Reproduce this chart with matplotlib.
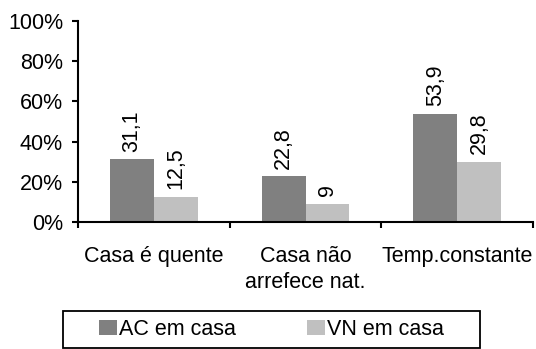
import numpy as np
import matplotlib.pyplot as plt
from matplotlib.patches import Rectangle
from matplotlib.ticker import FixedLocator, NullFormatter

plt.rcParams['font.family'] = ['Liberation Sans', 'DejaVu Sans']

# percentages per reason, by group
categories = ['Casa é quente', 'Casa não\narrefece nat.', 'Temp.constante']
ac_casa = [31.1, 22.8, 53.9]
vn_casa = [12.5, 9.0, 29.8]
series_names = ['AC em casa', 'VN em casa']

fs = 15.5
W, H = 536, 349
fig = plt.figure(figsize=(W/100, H/100), dpi=100)
ax = fig.add_axes([78/W, 1 - 222/H, 455/W, 201/H])

x = np.arange(len(categories))
w = 0.29
b1 = ax.bar(x - w/2, ac_casa, w, color='#808080', label=series_names[0])
b2 = ax.bar(x + w/2, vn_casa, w, color='#c0c0c0', label=series_names[1])

def fmt(v):
    s = ('%.1f' % v).replace('.', ',')
    return s[:-2] if s.endswith(',0') else s

for bars, vals in [(b1, ac_casa), (b2, vn_casa)]:
    for rect, v in zip(bars, vals):
        ax.annotate(fmt(v), (rect.get_x() + rect.get_width()/2, v),
                    xytext=(0, 5.5), textcoords='offset points',
                    rotation=90, ha='center', va='bottom', fontsize=fs)

ax.set_xlim(-0.5, 2.5)
ax.set_ylim(0, 100)
ax.set_yticks(np.arange(0, 101, 20))
ax.set_yticklabels(['%d%%' % t for t in range(0, 101, 20)], fontsize=fs)

# boundaries get tick marks, category names sit between them
ax.xaxis.set_major_locator(FixedLocator([-0.5, 0.5, 1.5, 2.5]))
ax.xaxis.set_major_formatter(NullFormatter())
ax.xaxis.set_minor_locator(FixedLocator(x))
ax.set_xticklabels(categories, minor=True, fontsize=fs, linespacing=1.35)
ax.tick_params(axis='x', which='minor', length=0, pad=17)
ax.tick_params(axis='x', which='major', length=4.3, width=1.5, direction='out')
ax.tick_params(axis='y', length=4.3, width=1.5, direction='out', pad=6.5)

for s in ['top', 'right']:
    ax.spines[s].set_visible(False)
for s in ['left', 'bottom']:
    ax.spines[s].set_linewidth(1.5)

# legend box drawn separately so the entries can sit inset
fig.patches.append(Rectangle((63/W, 1 - 348/H), (480 - 63)/W, (348 - 311)/H,
                             transform=fig.transFigure, fill=False,
                             edgecolor='black', linewidth=1.3))
fig.legend(loc='center left', bbox_to_anchor=(99/W, 1 - 329.5/H),
           ncol=2, fontsize=fs, frameon=False, borderpad=0, borderaxespad=0,
           handlelength=0.84, handleheight=0.7, handletextpad=0.1,
           columnspacing=3.3)

plt.savefig('out.png', dpi=100)
